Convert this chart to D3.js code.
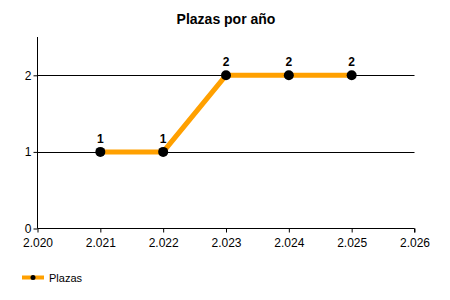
<!DOCTYPE html>
<html><head><meta charset="utf-8">
<script src="https://cdn.jsdelivr.net/npm/d3@7"></script>
<style>body{margin:0;background:#fff}svg{display:block;font-family:"Liberation Sans",Arial,sans-serif}</style>
</head><body>
<svg id="c" width="450" height="300"></svg>
<script>
const title = "Plazas por año";
const seriesName = "Plazas";
const years = [2021, 2022, 2023, 2024, 2025];
const values = [1, 1, 2, 2, 2];
const xTicks = [2020, 2021, 2022, 2023, 2024, 2025, 2026];
const xTickLabels = ["2.020", "2.021", "2.022", "2.023", "2.024", "2.025", "2.026"];
const yTicks = [0, 1, 2];

const svg = d3.select("#c");
const x = d3.scaleLinear().domain([2020, 2026]).range([37.5, 414.5]);
const y = d3.scaleLinear().domain([0, 2.5]).range([228.5, 37]);
const orange = "#FFA000";

svg.append("text").attr("x", 226).attr("y", 24).attr("text-anchor", "middle")
  .attr("font-size", 14).attr("font-weight", "bold").text(title);

// gridlines
svg.append("g").selectAll("line").data(yTicks.filter(d => d > 0)).join("line")
  .attr("x1", x(2020)).attr("x2", x(2026))
  .attr("y1", d => Math.round(y(d)) + 0.5).attr("y2", d => Math.round(y(d)) + 0.5)
  .attr("stroke", "#000").attr("stroke-width", 1);

// y axis
const ya = svg.append("g").attr("transform", `translate(${x(2020)},0)`)
  .call(d3.axisLeft(y).tickValues(yTicks).tickSize(4).tickPadding(2).tickFormat(d3.format("d")));
ya.select(".domain").attr("d", `M0,${y(2.5)}V${y(0)}`);
ya.selectAll("text").attr("font-size", 12).attr("font-family", "Liberation Sans, Arial, sans-serif").attr("fill", "#000");

// x axis
const xa = svg.append("g").attr("transform", `translate(0,${y(0)})`)
  .call(d3.axisBottom(x).tickValues(xTicks).tickSize(4).tickPadding(6).tickFormat((d, i) => xTickLabels[i]));
xa.select(".domain").attr("d", `M${x(2020)},0H${x(2026)}V4`);
xa.selectAll("text").attr("font-size", 12).attr("font-family", "Liberation Sans, Arial, sans-serif").attr("fill", "#000");

const data = years.map((yr, i) => ({yr, v: values[i]}));
svg.append("path").datum(data)
  .attr("d", d3.line().x(d => x(d.yr)).y(d => y(d.v)))
  .attr("fill", "none").attr("stroke", orange).attr("stroke-width", 5);

svg.append("g").selectAll("circle").data(data).join("circle")
  .attr("cx", d => x(d.yr)).attr("cy", d => y(d.v)).attr("r", 5).attr("fill", "#000");

svg.append("g").selectAll("text").data(data).join("text")
  .attr("x", d => x(d.yr)).attr("y", d => y(d.v) - 9).attr("text-anchor", "middle")
  .attr("font-size", 12).attr("font-weight", "bold").text(d => d.v);

// legend
const lg = svg.append("g");
lg.append("line").attr("x1", 22).attr("x2", 44).attr("y1", 277.5).attr("y2", 277.5)
  .attr("stroke", orange).attr("stroke-width", 4);
lg.append("circle").attr("cx", 33).attr("cy", 277.5).attr("r", 2.5).attr("fill", "#000");
lg.append("text").attr("x", 49).attr("y", 282).attr("font-size", 11).text(seriesName);
</script>
</body></html>
